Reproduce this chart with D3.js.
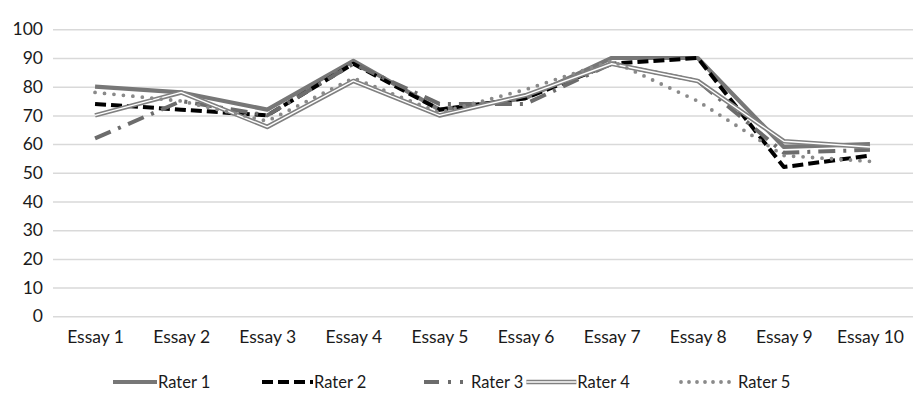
<!DOCTYPE html>
<html><head><meta charset="utf-8">
<script src="https://cdn.jsdelivr.net/npm/d3@7"></script>
<style>
html,body{margin:0;padding:0;background:#fff;}
text{font-family:"Lato","Open Sans",sans-serif;fill:#1a1a1a;}
</style></head>
<body><svg id="c" width="924" height="400"></svg>
<script>
const categories = ["Essay 1","Essay 2","Essay 3","Essay 4","Essay 5","Essay 6","Essay 7","Essay 8","Essay 9","Essay 10"];
const rater1 = [80,78,72,89,72,76,90,90,59,60];
const rater2 = [74,72,70,88,72,76,88,90,52,56];
const rater3 = [62,75,70,88,74,74,88,82,57,58];
const rater4 = [70,78,66,82,70,77,88,82,61,59];
const rater5 = [78,75,68,83,71,79,89,75,56,54];
const seriesNames = ["Rater 1","Rater 2","Rater 3","Rater 4","Rater 5"];
const yTicks = [0,10,20,30,40,50,60,70,80,90,100];

const series = [rater1,rater2,rater3,rater4,rater5];
const styles = [
  [{stroke:"#777777", w:4.2}],
  [{stroke:"#000000", w:4, dash:"11,5"}],
  [{stroke:"#6c6c6c", w:4, dash:"17,8,3,8"}],
  [{stroke:"#808080", w:4.6},{stroke:"#ffffff", w:1.4}],
  [{stroke:"#8a8a8a", w:3.8, dash:"0,9.5", cap:"round"}]
];
const legendDash = [null, "11,5", "15,9,3,9,3,100", null, "0,8"];

const svg = d3.select("#c");
const x = d3.scalePoint().domain(categories).range([52,913]).padding(0.5);
const y = d3.scaleLinear().domain([0,100]).range([316.3,29.3]);

// gridlines
const yAxis = d3.axisLeft(y).tickValues(yTicks).tickSize(-(913-53)).tickPadding(10);
const gy = svg.append("g").attr("transform","translate(53,0)").call(yAxis);
gy.select(".domain").remove();
gy.selectAll(".tick line").attr("stroke","#d9d9d9").attr("stroke-width",1.5);
gy.selectAll(".tick text").attr("font-size",17.5).attr("fill","#1a1a1a");

// x labels
const xAxis = d3.axisBottom(x).tickSize(0).tickPadding(14);
const gx = svg.append("g").attr("transform","translate(0,316.3)").call(xAxis);
gx.select(".domain").remove();
gx.selectAll(".tick text").attr("font-size",17.5).attr("fill","#1a1a1a");

const line = d3.line().x((d,i)=>x(categories[i])).y(d=>y(d));

series.forEach((s,k)=>{
  styles[k].forEach(st=>{
    svg.append("path").datum(s).attr("d",line)
      .attr("fill","none").attr("stroke",st.stroke).attr("stroke-width",st.w)
      .attr("stroke-linejoin","round")
      .attr("stroke-linecap",st.cap||"butt")
      .attr("stroke-dasharray",st.dash||null);
  });
});

// legend
const legX = [113,262,424,null,681];
const legLen = [44,51,44,50,49];
const legText = [158,314,471,null,738];
const ly = 382;
seriesNames.forEach((n,k)=>{
  let sx = legX[k];
  if (sx === null) {
    const prev = svg.select("#legt2").node();
    sx = prev.getBBox().x + prev.getBBox().width + 3;
  }
  styles[k].forEach(st=>{
    svg.append("line").attr("x1",sx).attr("x2",sx+legLen[k]).attr("y1",ly).attr("y2",ly)
      .attr("stroke",st.stroke).attr("stroke-width",st.w)
      .attr("stroke-linecap",st.cap||"butt")
      .attr("stroke-dasharray",legendDash[k]);
  });
  const tx = legText[k] === null ? sx + legLen[k] + 1 : legText[k];
  svg.append("text").attr("id","legt"+k).attr("x",tx).attr("y",ly).attr("dy","0.35em")
    .attr("font-size",16.5).text(n);
});
</script></body></html>
